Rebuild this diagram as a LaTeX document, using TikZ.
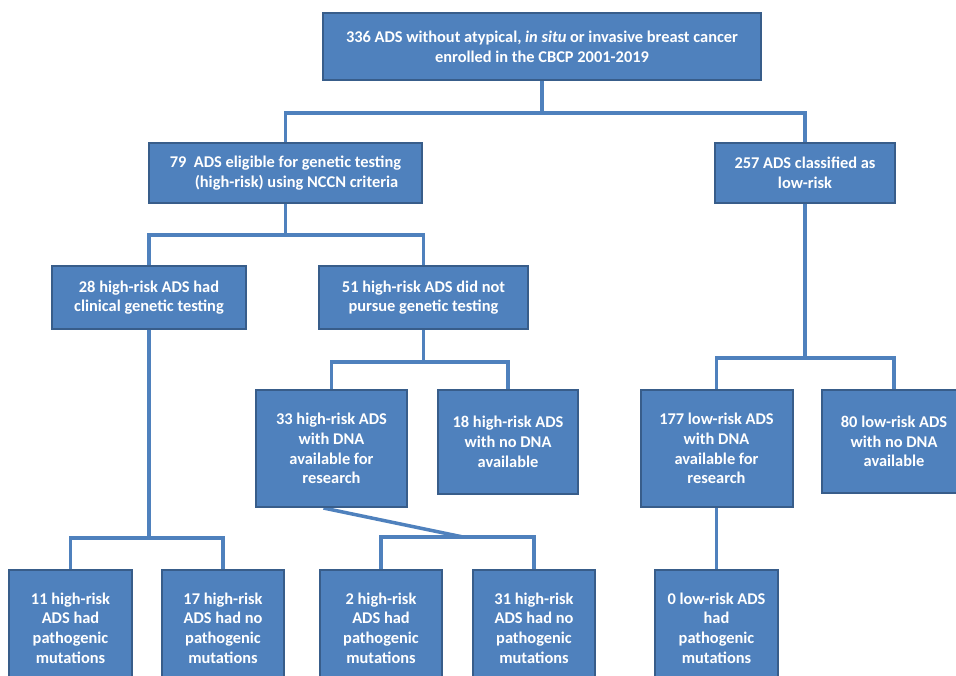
\documentclass[tikz,border=0pt]{standalone}
\usepackage{fontspec}
\setmainfont{Carlito}
\usetikzlibrary{backgrounds}
\definecolor{boxfill}{HTML}{4F81BD}
\definecolor{boxline}{HTML}{385D8A}
\begin{document}
\begin{tikzpicture}[x=1pt,y=-1pt,
  font=\bfseries\fontsize{16.4}{19.7}\selectfont,
  ads/.style={draw=boxline, line width=2pt, fill=boxfill, text=white, align=center, inner sep=0pt},
  conn/.style={draw=boxfill, line width=3.5pt}]
\useasboundingbox (0,0) rectangle (956,676);
\clip (0,0) rectangle (956,676);
\node[ads, minimum width=438pt, minimum height=67pt] (top) at (542,46.5)
  {336 ADS without atypical, \textit{in situ} or invasive breast cancer\\enrolled in the CBCP 2001-2019};
\node[ads, minimum width=273pt, minimum height=60pt] (b79) at (285.5,173)
  {79\ \ ADS eligible for genetic testing\\\hspace*{22pt}(high-risk) using NCCN criteria};
\node[ads, minimum width=180pt, minimum height=60pt] (b257) at (805,173)
  {257 ADS classified as\\low-risk};
\node[ads, minimum width=194pt, minimum height=63pt] (b28) at (149,297.5)
  {28 high-risk ADS had\\clinical genetic testing};
\node[ads, minimum width=209pt, minimum height=63pt] (b51) at (423.5,297.5)
  {51 high-risk ADS did not\\pursue genetic testing};
\node[ads, minimum width=151pt, minimum height=117pt] (b33) at (331.5,448.5)
  {33 high-risk ADS\\with DNA\\available for\\research};
\node[ads, minimum width=140pt, minimum height=104pt] (b18) at (508,442)
  {18 high-risk ADS\\with no DNA\\available};
\node[ads, minimum width=152pt, minimum height=117pt] (b177) at (716.5,448.5)
  {177 low-risk ADS\\with DNA\\available for\\research};
\node[ads, minimum width=144pt, minimum height=103pt] (b80) at (894,441.5)
  {80 low-risk ADS\\with no DNA\\available};
\node[ads, minimum width=123pt, minimum height=116pt] (b11) at (70.5,628)
  {11 high-risk\\ADS had\\pathogenic\\mutations};
\node[ads, minimum width=122pt, minimum height=116pt] (b17) at (223,628)
  {17 high-risk\\ADS had no\\pathogenic\\mutations};
\node[ads, minimum width=122pt, minimum height=116pt] (b2) at (381,628)
  {2 high-risk\\ADS had\\pathogenic\\mutations};
\node[ads, minimum width=122pt, minimum height=116pt] (b31) at (534,628)
  {31 high-risk\\ADS had no\\pathogenic\\mutations};
\node[ads, minimum width=123pt, minimum height=116pt] (b0) at (716.5,628)
  {0 low-risk ADS\\had\\pathogenic\\mutations};
\coordinate (j1) at (542,113);
\coordinate (j2) at (285.5,235);
\coordinate (j3) at (423.5,362);
\coordinate (j4) at (805,358);
\coordinate (j5) at (149,538);
\coordinate (j6) at (463,537);
\begin{scope}[on background layer]
\fill[white] (0,0) rectangle (956,676);
\draw[conn] (top.south) -- (j1);
\draw[conn] (b79.north) |- (j1) -| (b257.north);
\draw[conn] (b79.south) -- (j2);
\draw[conn] (b28.north) |- (j2) -| (b51.north);
\draw[conn] (b51.south) -- (j3);
\draw[conn] (b33.north) |- (j3) -| (b18.north);
\draw[conn] (b257.south) -- (j4);
\draw[conn] (b177.north) |- (j4) -| (b80.north);
\draw[conn] (b28.south) -- (j5);
\draw[conn] (b11.north) |- (j5) -| (b17.north);
\draw[conn] ([xshift=-8pt]b33.south) -- (j6);
\draw[conn] (b2.north) |- (j6) -| (b31.north);
\draw[conn] (b177.south) -- (b0.north);
\end{scope}
\end{tikzpicture}
\end{document}
